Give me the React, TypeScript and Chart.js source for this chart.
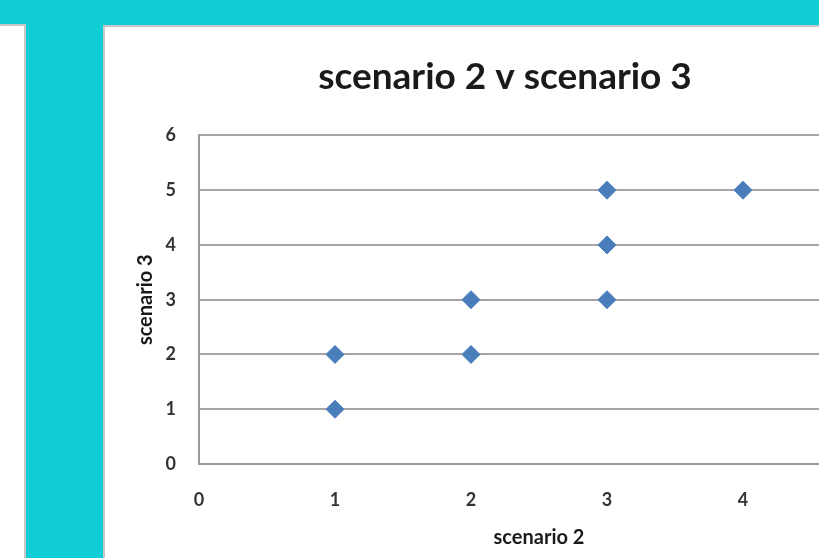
import React, { useEffect, useRef } from "react";
import { Chart, registerables } from "chart.js";

Chart.register(...registerables);

const scenario2: number[] = [1, 1, 2, 2, 3, 3, 3, 4];
const scenario3: number[] = [1, 2, 2, 3, 3, 4, 5, 5];
const chartTitle = "scenario 2 v scenario 3";
const xAxisTitle = "scenario 2";
const yAxisTitle = "scenario 3";
const xRange: [number, number] = [0, 5];
const yRange: [number, number] = [0, 6];

const FONT = "Lato, 'Open Sans', 'Liberation Sans', sans-serif";

export default function App() {
  const ref = useRef<HTMLCanvasElement | null>(null);

  useEffect(() => {
    if (!ref.current) return;
    const points = scenario2.map((x, i) => ({ x, y: scenario3[i] }));
    const chart = new Chart(ref.current, {
      type: "scatter",
      data: {
        datasets: [
          {
            label: yAxisTitle,
            data: points,
            pointStyle: "rectRot",
            pointRadius: 9,
            pointHoverRadius: 9,
            backgroundColor: "#4a7ebb",
            borderColor: "#4a7ebb",
            borderWidth: 1,
          },
        ],
      },
      options: {
        animation: false,
        responsive: true,
        maintainAspectRatio: false,
        layout: { padding: { left: 0, right: 0, top: 0, bottom: 0 } },
        plugins: {
          legend: { display: false },
          tooltip: { enabled: false },
          title: {
            display: true,
            text: chartTitle,
            color: "#1a1a1a",
            font: { family: FONT, size: 37, weight: "bold" },
            padding: { top: 28, bottom: 36 },
          },
        },
        scales: {
          x: {
            type: "linear",
            min: xRange[0],
            max: xRange[1],
            afterFit: (s: any) => {
              s.paddingRight = 26;
              s.height = 93;
            },
            ticks: {
              stepSize: 1,
              color: "#333333",
              padding: 25,
              font: { family: FONT, size: 18, weight: "bold" },
            },
            grid: { display: false, drawTicks: false },
            border: { display: true, color: "#9a9a9a", width: 2 },
            title: {
              display: true,
              text: xAxisTitle,
              color: "#1a1a1a",
              font: { family: FONT, size: 20, weight: "bold" },
              padding: { top: 15, bottom: 7 },
            },
          },
          y: {
            type: "linear",
            min: yRange[0],
            max: yRange[1],
            afterFit: (s: any) => {
              s.width = 94;
            },
            ticks: {
              stepSize: 1,
              color: "#333333",
              padding: 23,
              font: { family: FONT, size: 18, weight: "bold" },
            },
            grid: { color: "#a6a6a6", lineWidth: 2, drawTicks: false },
            border: { display: true, color: "#9a9a9a", width: 2 },
            title: {
              display: true,
              text: yAxisTitle,
              color: "#1a1a1a",
              font: { family: FONT, size: 20, weight: "bold" },
              padding: { top: 29, bottom: 7 },
            },
          },
        },
      },
    });
    return () => chart.destroy();
  }, []);

  return (
    <div
      style={{
        position: "fixed",
        left: 0,
        top: 0,
        width: 819,
        height: 558,
        overflow: "hidden",
        background: "#10cdd6",
      }}
    >
      <div
        style={{
          position: "absolute",
          left: -4,
          top: 24,
          width: 26,
          height: 600,
          background: "#ffffff",
          border: "2px solid #c8c8c8",
        }}
      />
      <div
        style={{
          position: "absolute",
          left: 103,
          top: 25,
          width: 800,
          height: 600,
          background: "#ffffff",
          border: "2px solid #c8c8c8",
        }}
      >
        <div style={{ position: "relative", width: 800, height: 530 }}>
          <canvas ref={ref} />
        </div>
      </div>
    </div>
  );
}
